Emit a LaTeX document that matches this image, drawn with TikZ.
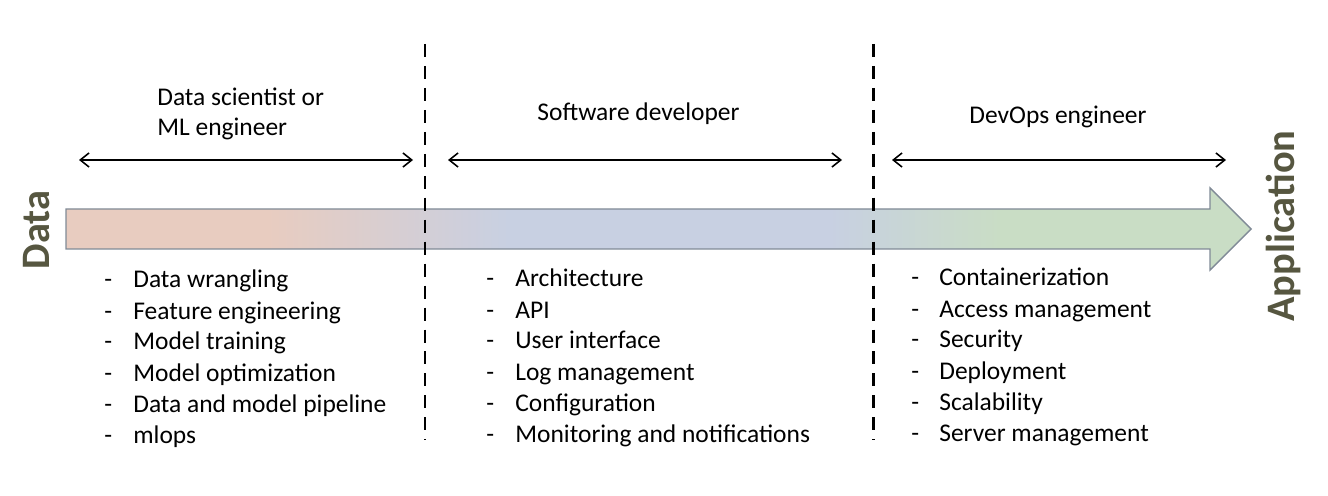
\documentclass[tikz,border=0pt]{standalone}
\usepackage{fontspec}
\setmainfont{Carlito}
\usetikzlibrary{positioning,arrows.meta}

\definecolor{dataPink}{RGB}{232,204,192}
\definecolor{devBlue}{RGB}{200,208,226}
\definecolor{opsGreen}{RGB}{201,221,197}
\definecolor{arrowEdge}{RGB}{128,138,150}
\definecolor{labelOlive}{RGB}{86,86,64}
\pgfdeclarehorizontalshading{flowshade}{100bp}{color(0bp)=(dataPink); color(33.5bp)=(dataPink); color(43.7bp)=(devBlue); color(57.2bp)=(devBlue); color(64.4bp)=(opsGreen); color(100bp)=(opsGreen)}

\begin{document}
\begin{tikzpicture}[x=0.02cm,y=-0.02cm,>={Straight Barb[length=5pt,width=8pt]},
    every node/.style={font=\fontsize{14.5}{17.6}\selectfont,inner sep=0pt},
    item/.style={anchor=base west},
    span/.style={<->,line width=0.9pt},
    border/.style={line width=1.7pt,dash pattern=on 7.4pt off 5.1pt},
    endlabel/.style={rotate=90,font=\fontsize{23}{27}\selectfont\bfseries,text=labelOlive}]
    \useasboundingbox (0,0) rectangle (1328,496);

    % Data -> Application
    \draw[arrowEdge,line width=0.8pt,shading=flowshade] (66,209) -- (1210,209) -- (1210,188) -- (1251,229) -- (1210,270) -- (1210,249) -- (66,249) -- cycle;
    \node[endlabel] (data) at (37,230) {Data};
    \node[endlabel] (app) at (1283,226) {Application};

    % borders between roles
    \coordinate (b1top) at (425,44);
    \coordinate (b1bot) at (425,440);
    \coordinate (b2top) at (873,44);
    \coordinate (b2bot) at (873,440);
    \draw[border] (b1top) -- (b1bot);
    \draw[border] (b2top) -- (b2bot);

    % roles
    \node[anchor=base west,align=left] (ds) at (157,136) {Data scientist or\\ML engineer};
    \node[anchor=base] (sw) at (638.5,121) {Software developer};
    \node[anchor=base] (ops) at (1058,124) {DevOps engineer};

    \coordinate (dsL) at (79,160);
    \coordinate (dsR) at (413,160);
    \coordinate (swL) at (448,160);
    \coordinate (swR) at (842,160);
    \coordinate (opsL) at (892,160);
    \coordinate (opsR) at (1226,160);
    \draw[span] (dsL) -- (dsR);
    \draw[span] (swL) -- (swR);
    \draw[span] (opsL) -- (opsR);

    % tasks
    \foreach \t [count=\i from 0] in {Data wrangling,Feature engineering,Model training,Model optimization,Data and model pipeline,mlops} {
        \node[item] (dsdash\i) at (104,288+31*\i) {-};
        \node[item] (dstask\i) at (133,288+31*\i) {\t};
    }
    \foreach \t [count=\i from 0] in {Architecture,API,User interface,Log management,Configuration,Monitoring and notifications} {
        \node[item] (swdash\i) at (486,287+31*\i) {-};
        \node[item] (swtask\i) at (515,287+31*\i) {\t};
    }
    \foreach \t [count=\i from 0] in {Containerization,Access management,Security,Deployment,Scalability,Server management} {
        \node[item] (opsdash\i) at (911,286+31*\i) {-};
        \node[item] (opstask\i) at (939,286+31*\i) {\t};
    }
\end{tikzpicture}
\end{document}
